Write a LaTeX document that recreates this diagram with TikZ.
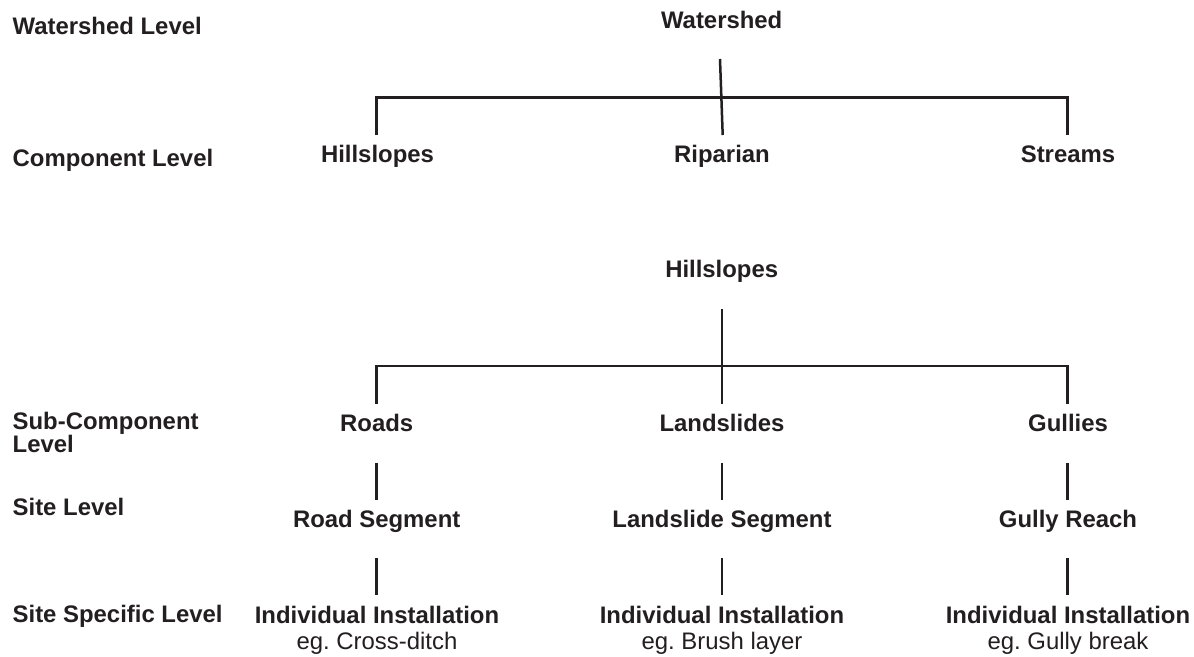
\documentclass[tikz,border=0pt]{standalone}
\usepackage{fontspec}
\setmainfont{Liberation Sans}
\definecolor{ink}{HTML}{231F20}
\begin{document}
\frenchspacing
\begin{tikzpicture}[x=1pt,y=-1pt,
  every node/.style={inner sep=0pt,outer sep=0pt,text=ink},
  lbl/.style={anchor=base,font=\fontsize{23.9}{23.5}\selectfont\bfseries},
  lvl/.style={anchor=base west,align=left,font=\fontsize{23.9}{23.5}\selectfont\bfseries},
  sub/.style={anchor=base,font=\fontsize{23.9}{23.5}\selectfont},
  link/.style={draw=ink,line width=2.5pt}]
\useasboundingbox[fill=white] (0,0) rectangle (1194,656);
% level labels
\node[lvl] (lvWs) at (12.7,34.3) {Watershed Level};
\node[lvl] (lvComp) at (12.7,166) {Component Level};
\node[lvl] (lvSub) at (12.7,452.7) {Sub-Component\\Level};
\node[lvl] (lvSite) at (12.7,515.7) {Site Level};
\node[lvl] (lvSpec) at (12.7,622.3) {Site Specific Level};
% top tree
\node[lbl] (ws) at (721.7,28.3) {Watershed};
\node[lbl] (cHill) at (377.5,162.3) {Hillslopes};
\node[lbl] (cRip) at (722,162.3) {Riparian};
\node[lbl] (cStr) at (1068,162.3) {Streams};
\coordinate (wsTop) at (720,59);
\coordinate (wsBot) at (722.7,135);
\coordinate (kH) at (376.5,97.5);
\coordinate (kS) at (1067.5,97.5);
\coordinate (cH) at (376.5,135);
\coordinate (cS) at (1067.5,135);
\draw[link] (wsTop) -- (wsBot);
\draw[link] (cH) -- (kH) -- (kS) -- (cS);
% lower tree
\node[lbl] (hill) at (721.7,277.7) {Hillslopes};
\node[lbl] (roads) at (376.7,431.7) {Roads};
\node[lbl] (lands) at (722,431.7) {Landslides};
\node[lbl] (gull) at (1068,431.7) {Gullies};
\node[lbl] (rSeg) at (376.7,527) {Road Segment};
\node[lbl] (lSeg) at (722,527) {Landslide Segment};
\node[lbl] (gSeg) at (1068,527) {Gully Reach};
\node[lbl] (rInst) at (377,623.5) {Individual Installation};
\node[lbl] (lInst) at (722,623.5) {Individual Installation};
\node[lbl] (gInst) at (1068,623.5) {Individual Installation};
\node[sub] (rEg) at (377,649) {eg. Cross-ditch};
\node[sub] (lEg) at (722,649) {eg. Brush layer};
\node[sub] (gEg) at (1068,649) {eg. Gully break};
\coordinate (hTop) at (722,309);
\coordinate (hBot) at (722,404);
\coordinate (bL) at (376.5,366);
\coordinate (bR) at (1067.5,366);
\coordinate (rTop) at (376.5,404);
\coordinate (gTop) at (1067.5,404);
\draw[link] (hTop) -- (hBot);
\draw[link] (rTop) -- (bL) -- (bR) -- (gTop);
\foreach \c/\x in {r/376.5,l/722,g/1067.5}{
  \coordinate (\c A) at (\x,462.7);
  \coordinate (\c B) at (\x,500);
  \coordinate (\c C) at (\x,558.3);
  \coordinate (\c D) at (\x,595);
  \draw[link] (\c A) -- (\c B);
  \draw[link] (\c C) -- (\c D);
}
\end{tikzpicture}
\end{document}
